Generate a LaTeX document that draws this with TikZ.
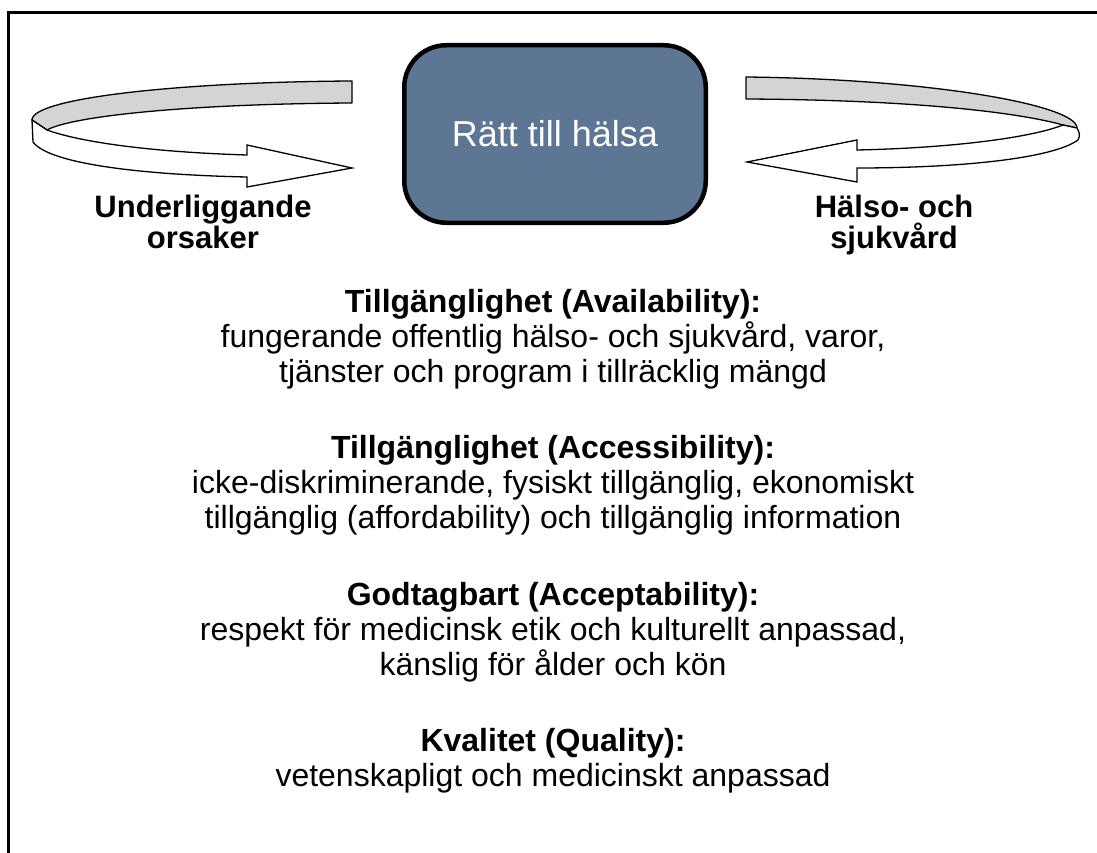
\documentclass[tikz,border=0pt]{standalone}
\usepackage{fontspec}
\setmainfont{Liberation Sans}
\definecolor{boxblue}{RGB}{92,118,147}
\definecolor{bandgray}{RGB}{212,212,212}
\tikzset{
  frameline/.style={line width=3pt},
  rightbox/.style={draw=black, line width=4.5pt, fill=boxblue, rounded corners=42pt,
    minimum width=301.5pt, minimum height=177.5pt, text=white, inner sep=0pt,
    font=\fontsize{36}{40}\selectfont},
  bandback/.style={draw=black, line width=1.3pt, fill=bandgray, line join=round},
  bandfront/.style={draw=black, line width=1.3pt, fill=white, line join=miter},
  sidelabel/.style={align=center, anchor=base, inner sep=0pt,
    font=\bfseries\fontsize{31}{31}\selectfont},
  bodytext/.style={align=center, anchor=base, inner sep=0pt,
    font=\fontsize{32}{35}\selectfont},
}
\begin{document}
\begin{tikzpicture}[x=1pt,y=-1pt]
\useasboundingbox (0,0) rectangle (1097,853);
\fill[white] (0,0) rectangle (1097,853);
\draw[frameline] (8,853) -- (8,13) -- (1097,13);

% central box
\node[rightbox] (rh) at (555,134) {Rätt till hälsa};

% left curved arrow
\draw[bandback] (352,81) .. controls (180,82) and (32,98) .. (32,120)
  -- (47,130) .. controls (70,117) and (180,104) .. (352,103) -- cycle;
\draw[bandfront] (32,120) -- (33,142) .. controls (50,165) and (150,175) .. (247,177)
  -- (247,187) -- (352,168) -- (247,145) -- (247,155)
  .. controls (150,152) and (80,142) .. (47,130) -- cycle;

% right curved arrow
\draw[bandback] (746,77) .. controls (930,79) and (1077,105) .. (1077,128)
  -- (1063,125) .. controls (1020,113) and (920,100) .. (746,99) -- cycle;
\draw[bandfront] (1077,128) .. controls (1080,133) and (1080,136) .. (1078,140)
  .. controls (1050,160) and (950,168) .. (857,168)
  -- (857,182) -- (747,162) -- (857,140) -- (857,150)
  .. controls (950,148) and (1030,138) .. (1063,125) -- cycle;

% side labels (base anchor = last line baseline)
\node[sidelabel] (under) at (203,248) {Underliggande\\orsaker};
\node[sidelabel] (halso) at (894,248) {Hälso- och\\sjukvård};

% body text (base anchor = last line baseline)
\node[bodytext] (avail) at (553,382) {\textbf{Tillgänglighet (Availability):}\\fungerande offentlig hälso- och sjukvård, varor,\\tjänster och program i tillräcklig mängd};
\node[bodytext] (access) at (553,528.5) {\textbf{Tillgänglighet (Accessibility):}\\icke-diskriminerande, fysiskt tillgänglig, ekonomiskt\\tillgänglig (affordability) och tillgänglig information};
\node[bodytext] (accept) at (553,675) {\textbf{Godtagbart (Acceptability):}\\respekt för medicinsk etik och kulturellt anpassad,\\känslig för ålder och kön};
\node[bodytext] (qual) at (553,786.5) {\textbf{Kvalitet (Quality):}\\vetenskapligt och medicinskt anpassad};
\end{tikzpicture}
\end{document}
